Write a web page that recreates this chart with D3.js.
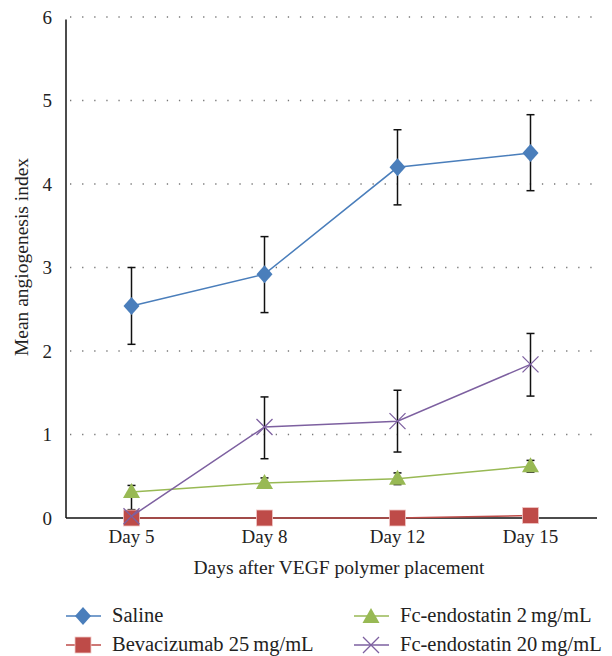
<!DOCTYPE html>
<html><head><meta charset="utf-8">
<script src="https://cdn.jsdelivr.net/npm/d3@7"></script>
<style>body{margin:0;background:#fff}svg{display:block}text{font-family:"Liberation Serif","DejaVu Serif",serif;fill:#222}</style>
</head><body><svg id="c" width="612" height="656"></svg>
<script>
const days = ["Day 5","Day 8","Day 12","Day 15"];
const yTicks = [0,1,2,3,4,5,6];
const seriesNames = ["Saline","Bevacizumab 25\u2009mg/mL","Fc-endostatin 2\u2009mg/mL","Fc-endostatin 20\u2009mg/mL"];
const saline = [2.54, 2.92, 4.20, 4.37];
const salineLo = [2.08, 2.46, 3.75, 3.92];
const salineHi = [3.00, 3.37, 4.65, 4.83];
const bevacizumab = [0, 0, 0, 0.03];
const fc2 = [0.31, 0.42, 0.47, 0.62];
const fc2Lo = [0.10, 0.36, 0.40, 0.55];
const fc2Hi = [0.39, 0.48, 0.54, 0.69];
const fc20 = [0.02, 1.09, 1.16, 1.84];
const fc20Lo = [0.0, 0.71, 0.79, 1.46];
const fc20Hi = [0.04, 1.45, 1.53, 2.21];

const FONT = '"Liberation Serif","DejaVu Serif",serif';
const colors = ["#4a7ebb","#be4b48","#98b954","#7d60a0"];
const svg = d3.select("#c");
const x = d3.scaleBand().domain(days).range([65, 597]);
const y = d3.scaleLinear().domain([0,6]).range([518, 17]);
const cx = d => x(d) + x.bandwidth()/2;

// grid
svg.append("g").selectAll("line").data(yTicks.filter(t=>t>0)).join("line")
  .attr("x1", 70).attr("x2", 597).attr("y1", d=>y(d)).attr("y2", d=>y(d))
  .attr("stroke","#777").attr("stroke-width",1.3).attr("stroke-dasharray","1.3,10.8");

// axes
const ya = svg.append("g").attr("transform","translate(66,0)").call(d3.axisLeft(y).tickValues(yTicks).tickSize(0).tickPadding(14).tickFormat(d3.format("d")));
ya.attr("font-family", FONT).attr("font-size", 19);
ya.select(".domain").attr("stroke","#111").attr("stroke-width",1.5).attr("d","M0,"+y(5.97)+"V"+y(0));
ya.selectAll("text").attr("fill","#222");
const xa = svg.append("g").attr("transform","translate(0,518)").call(d3.axisBottom(x).tickSize(0).tickPadding(12));
xa.attr("font-family", FONT).attr("font-size", 19);
xa.select(".domain").attr("stroke","#111").attr("stroke-width",1.5).attr("d","M66,0H597");
xa.selectAll("text").attr("fill","#222");

svg.append("text").attr("x",339).attr("y",574).attr("text-anchor","middle").attr("font-size",19.5).attr("font-family",FONT).text("Days after VEGF polymer placement");
svg.append("text").attr("transform","translate(28,257) rotate(-90)").attr("text-anchor","middle").attr("font-size",19.5).attr("font-family",FONT).text("Mean angiogenesis index");

const series = [
  {vals: saline, lo: salineLo, hi: salineHi, sym: "diamond"},
  {vals: bevacizumab, lo: null, hi: null, sym: "square"},
  {vals: fc2, lo: fc2Lo, hi: fc2Hi, sym: "triangle"},
  {vals: fc20, lo: fc20Lo, hi: fc20Hi, sym: "cross"}
];

function marker(g, sym, px, py, col){
  if(sym==="diamond"){
    g.append("path").attr("d",`M${px},${py-9}L${px+8},${py}L${px},${py+9}L${px-8},${py}Z`).attr("fill",col);
  } else if(sym==="square"){
    g.append("rect").attr("x",px-8).attr("y",py-8).attr("width",16).attr("height",16).attr("fill",col).attr("stroke","#f0c8c6").attr("stroke-width",0.8);
  } else if(sym==="triangle"){
    g.append("path").attr("d",`M${px},${py-9}L${px+8.5},${py+6}L${px-8.5},${py+6}Z`).attr("fill",col);
  } else {
    g.append("path").attr("d",`M${px-8},${py-8}L${px+8},${py+8}M${px-8},${py+8}L${px+8},${py-8}`).attr("stroke",col).attr("stroke-width",1.3).attr("fill","none");
  }
}

const line = d3.line().x((d,i)=>cx(days[i])).y(d=>y(d));
const order = [1,2,3,0];
// error bars
series.forEach((s)=>{
  if(!s.lo) return;
  const g = svg.append("g").attr("stroke","#111").attr("stroke-width",1.5);
  days.forEach((d,i)=>{
    const px = cx(d);
    if(s.hi[i]-s.lo[i] < 0.1) return;
    g.append("line").attr("x1",px).attr("x2",px).attr("y1",y(s.hi[i])).attr("y2",y(s.lo[i]));
    g.append("line").attr("x1",px-4).attr("x2",px+4).attr("y1",y(s.hi[i])).attr("y2",y(s.hi[i]));
    g.append("line").attr("x1",px-4).attr("x2",px+4).attr("y1",y(s.lo[i])).attr("y2",y(s.lo[i]));
  });
});
order.forEach(k=>{
  const s = series[k];
  const g = svg.append("g");
  g.append("path").attr("d", line(s.vals)).attr("fill","none").attr("stroke",colors[k]).attr("stroke-width",1.5);
  s.vals.forEach((v,i)=>marker(g, s.sym, cx(days[i]), y(v), colors[k]));
});

// legend
const legPos = [[66,616],[66,645],[354,616],[354,645]];
seriesNames.forEach((n,k)=>{
  const [lx,ly] = legPos[k];
  const g = svg.append("g");
  g.append("line").attr("x1",lx).attr("x2",lx+35).attr("y1",ly).attr("y2",ly).attr("stroke",colors[k]).attr("stroke-width",1.5);
  marker(g, series[k].sym, lx+17, ly + (series[k].sym==="triangle"?1:0), colors[k]);
  g.append("text").attr("x",lx+46).attr("y",ly+6).attr("font-size",20.5).attr("font-family",FONT).text(n);
});
</script></body></html>
